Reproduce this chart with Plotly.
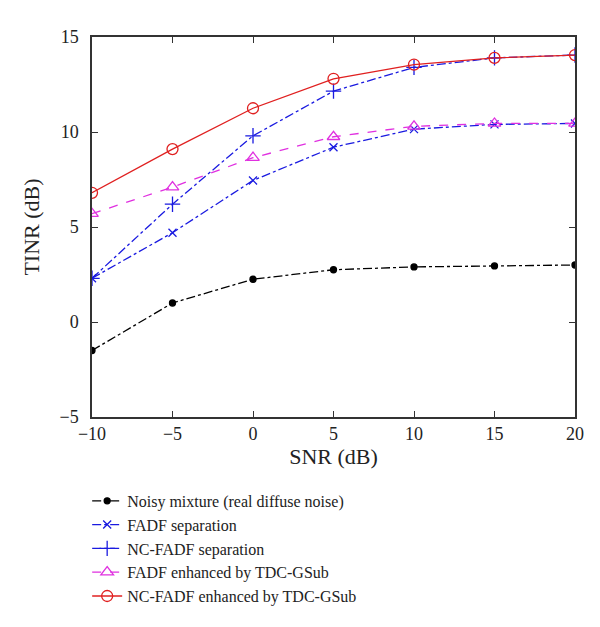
import plotly.graph_objects as go

snr = [-10, -5, 0, 5, 10, 15, 20]
noisy = [-1.5, 1.0, 2.25, 2.75, 2.9, 2.95, 3.0]
fadf_sep = [2.3, 4.7, 7.45, 9.2, 10.15, 10.4, 10.45]
ncfadf_sep = [2.3, 6.2, 9.8, 12.15, 13.4, 13.9, 14.05]
fadf_enh = [5.7, 7.1, 8.65, 9.75, 10.3, 10.45, 10.45]
ncfadf_enh = [6.8, 9.1, 11.25, 12.8, 13.55, 13.9, 14.05]

series = [
    ("Noisy mixture (real diffuse noise)", noisy, "black", "dashdot", "circle", 6),
    ("FADF separation", fadf_sep, "#1a1ae0", "dashdot", "x-thin-open", 8),
    ("NC-FADF separation", ncfadf_sep, "#1a1ae0", "dashdot", "cross-thin-open", 11),
    ("FADF enhanced by TDC-GSub", fadf_enh, "#e030e0", "dash", "triangle-up-open", 11),
    ("NC-FADF enhanced by TDC-GSub", ncfadf_enh, "#e02020", "solid", "circle-open", 11),
]

fig = go.Figure()
for name, ys, color, dash, sym, size in series:
    fig.add_trace(go.Scatter(
        x=snr, y=ys, name=name, mode="lines+markers",
        line=dict(color=color, dash=dash, width=1.3),
        marker=dict(symbol=sym, size=size, color=color, line=dict(color=color, width=1.3)),
    ))

axis = dict(showgrid=False, zeroline=False, showline=True, linecolor="#333", linewidth=1.5,
            mirror="ticks", ticks="inside", ticklen=6, tickcolor="#333",
            tickfont=dict(size=18, color="#222"))
fig.update_layout(
    width=600, height=627,
    margin=dict(l=84, r=33, t=29, b=218),
    paper_bgcolor="white", plot_bgcolor="white",
    font=dict(family="Liberation Serif", size=18, color="#222"),
    xaxis=dict(axis, range=[-10, 20], dtick=5,
               title=dict(text="SNR (dB)", standoff=4)),
    yaxis=dict(axis, range=[-5, 15], dtick=5, ticklabelstandoff=8,
               title=dict(text="TINR (dB)", standoff=14)),
    legend=dict(x=-0.01, y=-0.176, xanchor="left", yanchor="top", bgcolor="rgba(0,0,0,0)",
                font=dict(size=16), itemwidth=30, tracegroupgap=0),
)
fig.write_html("out.html")
